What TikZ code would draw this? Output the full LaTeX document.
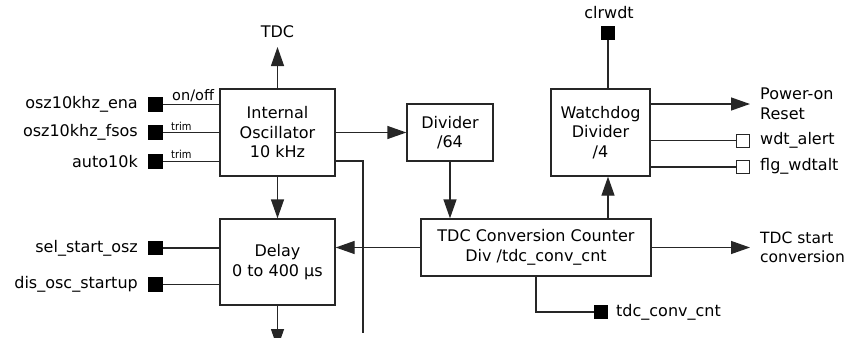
\documentclass[tikz,border=0pt]{standalone}
\usepackage{fontspec}
\setmainfont{DejaVu Sans}
\IfFontExistsTF{DejaVu Sans Condensed}{\newfontfamily\condf{DejaVu Sans Condensed}}{\newfontfamily\condf{DejaVu Sans}}
\usetikzlibrary{arrows.meta}
\tikzset{
  ln/.style={line width=1.3pt, draw=black!85},
  arr/.style={ln, -{Triangle[length=19pt,width=13pt]}},
  blk/.style={ln, inner sep=0pt, align=center, font=\fontsize{16}{19.5}\selectfont},
  lbl/.style={inner sep=0pt, font=\fontsize{16}{19.5}\selectfont},
  small/.style={inner sep=0pt, font=\fontsize{14.5}{17}\selectfont},
  trimf/.style={inner sep=0pt, font=\condf\fontsize{11}{13}\selectfont},
  sq/.style={fill=black, minimum size=14.5pt, inner sep=0pt},
  osq/.style={draw=black!85, line width=1pt, fill=white, minimum size=13pt, inner sep=0pt},
}
\begin{document}
\begin{tikzpicture}[x=1pt,y=-1pt]
\useasboundingbox (0,0) rectangle (845,337);
\clip (0,0) rectangle (845,337);

% blocks
\node[blk, minimum width=115pt, minimum height=87pt] (osc) at (277.5,132.5) {Internal\\Oscillator\\10 kHz};
\node[blk, minimum width=115pt, minimum height=86pt] (delay) at (277.5,262) {Delay\\0 to 400 µs};
\node[blk, minimum width=86pt, minimum height=57pt] (div) at (450,132.5) {Divider\\/64};
\node[blk, minimum width=99pt, minimum height=87pt] (wd) at (600.5,132.5) {Watchdog\\Divider\\/4};
\node[blk, minimum width=230pt, minimum height=57pt] (tdc) at (536,247.5) {TDC Conversion Counter\\Div /tdc\_conv\_cnt};

% left inputs
\node[sq] (sqena) at (155.5,104.5) {};
\node[sq] (sqfsos) at (155.5,132.5) {};
\node[sq] (sqauto) at (155.5,161.5) {};
\node[sq] (sqsel) at (155.5,248) {};
\node[sq] (sqdis) at (155.5,284.5) {};
\node[lbl, anchor=east] (tena) at (138,104.5) {osz10khz\_ena};
\node[lbl, anchor=east] (tfsos) at (138,132.5) {osz10khz\_fsos};
\node[lbl, anchor=east] (tauto) at (138,161.5) {auto10k};
\node[lbl, anchor=east] (tsel) at (138,248) {sel\_start\_osz};
\node[lbl, anchor=east] (tdis) at (138,284.5) {dis\_osc\_startup};
\draw[ln] (sqena) -- (osc.west |- sqena);
\draw[ln] (sqfsos) -- (osc.west |- sqfsos);
\draw[ln] (sqauto) -- (osc.west |- sqauto);
\draw[ln] (sqsel) -- (delay.west |- sqsel);
\draw[ln] (sqdis) -- (delay.west |- sqdis);
\node[small, anchor=west] (onoff) at (172,96) {on/off};
\node[trimf, anchor=west] (trim1) at (171,126) {trim};
\node[trimf, anchor=west] (trim2) at (171,154.5) {trim};

% oscillator outputs
\node[lbl] (tdclbl) at (277.5,32) {TDC};
\coordinate (tdctip) at (277.5,47);
\draw[arr] (osc.north) -- (tdctip);
\draw[arr] (osc.east) -- (div.west);
\coordinate (oscl) at (335,161);
\coordinate (vend) at (363,333);
\draw[ln] (oscl) -| (vend);
\draw[arr] (osc.south) -- (delay.north);
\coordinate (delayend) at (277.5,348);
\draw[arr] (delay.south) -- (delayend);

% divider, tdc counter
\draw[arr] (div.south) -- (div.south |- tdc.north);
\draw[arr] (tdc.west) -- (delay.east |- tdc.west);
\coordinate (tdcstart) at (750,247.5);
\draw[arr] (tdc.east) -- (tdcstart);
\node[lbl, anchor=west, align=left, font=\fontsize{15.5}{19.5}\selectfont] (tstart) at (760,247.5) {TDC start\\conversion};
\node[sq] (sqcnt) at (601,312) {};
\node[lbl, anchor=west] (tcnt) at (616,312) {tdc\_conv\_cnt};
\draw[ln] (tdc.south) |- (sqcnt.west);
\coordinate (wdx) at (608,0);
\draw[arr] (tdc.north -| wdx) -- (wd.south -| wdx);

% watchdog
\node[sq] (sqclr) at (608,33) {};
\node[lbl] (tclr) at (609,13) {clrwdt};
\draw[ln] (sqclr) -- (sqclr |- wd.north);
\coordinate (porin) at (650,104);
\coordinate (portip) at (750,104);
\draw[arr] (porin) -- (portip);
\node[lbl, anchor=west, align=left] (tpor) at (760,104) {Power-on\\Reset};
\node[osq] (oqa) at (743,140.5) {};
\node[osq] (oqf) at (743,167) {};
\draw[ln] (wd.east |- oqa) -- (oqa.west);
\draw[ln] (wd.east |- oqf) -- (oqf.west);
\node[lbl, anchor=west] (talert) at (760,140.5) {wdt\_alert};
\node[lbl, anchor=west] (tflg) at (760,166) {flg\_wdtalt};
\end{tikzpicture}
\end{document}
